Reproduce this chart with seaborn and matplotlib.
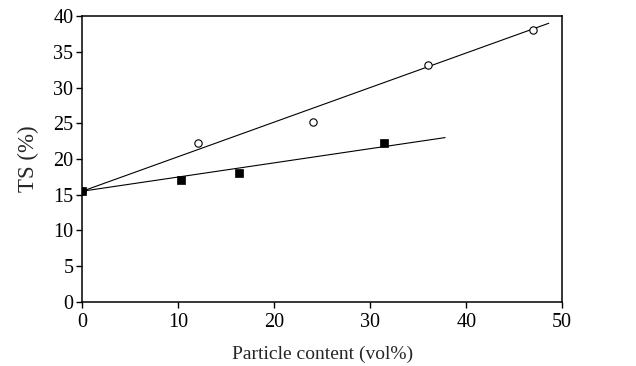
import matplotlib
matplotlib.use("Agg")
import matplotlib.pyplot as plt
import seaborn as sns
import pandas as pd

# Data
open_x = [0, 12.0, 24.0, 36.0, 47.0]
open_y = [15.5, 22.3, 25.2, 33.2, 38.1]
filled_x = [0, 10.3, 16.3, 31.4]
filled_y = [15.5, 17.1, 18.0, 22.3]
open_fit_x = [0, 48.6]
open_fit_y = [15.5, 39.0]
filled_fit_x = [0, 37.8]
filled_fit_y = [15.5, 23.0]
x_ticks = [0, 10, 20, 30, 40, 50]
y_ticks = [0, 5, 10, 15, 20, 25, 30, 35, 40]

sns.set_style("white")
plt.rcParams['font.family'] = ['Liberation Serif', 'DejaVu Serif']

fig = plt.figure(figsize=(6.36, 3.66), dpi=100)
ax = fig.add_axes([0.1295, 0.175, 0.7545, 0.781])

sns.lineplot(x=open_fit_x, y=open_fit_y, ax=ax, color="black", linewidth=0.8)
sns.lineplot(x=filled_fit_x, y=filled_fit_y, ax=ax, color="black", linewidth=0.8)
sns.scatterplot(x=open_x, y=open_y, ax=ax, marker="o", s=28, facecolor="white",
                edgecolor="black", linewidth=0.8, zorder=3)
sns.scatterplot(x=filled_x, y=filled_y, ax=ax, marker="s", s=36, color="black",
                edgecolor="black", linewidth=0.5, zorder=4)

ax.set_xlim(0, 50)
ax.set_ylim(0, 40)
ax.set_xticks(x_ticks)
ax.set_yticks(y_ticks)
ax.tick_params(axis="both", which="both", direction="out", length=4, width=1.0,
               labelsize=14.5, colors="black", bottom=True, left=True, top=False, right=False)
ax.tick_params(axis="x", pad=4)
ax.tick_params(axis="y", pad=2.5)
for sp in ax.spines.values():
    sp.set_color("black")
    sp.set_linewidth(1.1)
    sp.set_visible(True)
ax.set_xlabel("Particle content (vol%)", fontsize=14, labelpad=10)
ax.set_ylabel("TS (%)", fontsize=16.5, labelpad=10)
ax.grid(False)

fig.savefig("out.png", dpi=100)
